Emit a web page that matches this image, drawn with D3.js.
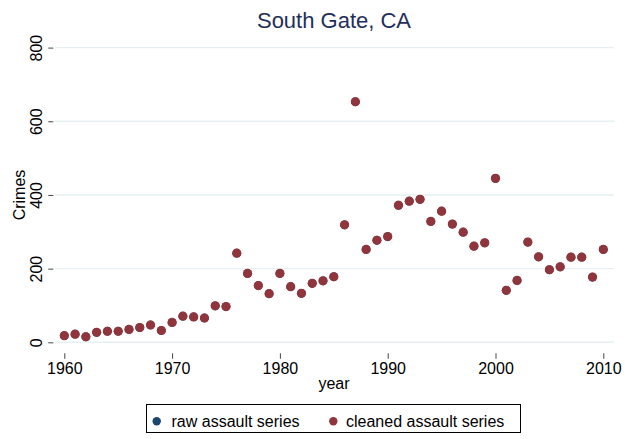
<!DOCTYPE html>
<html><head><meta charset="utf-8">
<script src="https://cdn.jsdelivr.net/npm/d3@7"></script>
<style>body{margin:0;background:#fff}svg{display:block}text{font-family:"Liberation Sans",Arial,Helvetica,sans-serif}</style>
</head><body>
<svg id="c" width="625" height="439"></svg>
<script>
const years = d3.range(1960, 2011);
const cleaned = [18,22,15,27,30,30,35,40,47,32,54,71,69,66,99,97,242,187,154,132,187,151,133,160,167,178,319,653,252,277,287,372,383,388,328,356,321,299,261,270,445,141,168,272,232,197,205,231,231,177,252];
const raw = cleaned.slice();
const xTicks = [1960,1970,1980,1990,2000,2010];
const yTicks = [0,200,400,600,800];
const legendLabels = ["raw assault series","cleaned assault series"];
const colors = {raw:"#1a476f", cleaned:"#90353b"};

const svg = d3.select("#c");
const x = d3.scaleLinear().domain([1960,2010]).range([64.3,603.3]);
const y = d3.scaleLinear().domain([0,800]).range([342.3,47.6]);
const plotL = 55, plotR = 614;

// gridlines
svg.append("g").selectAll("line").data(yTicks).join("line")
  .attr("x1",plotL).attr("x2",plotR)
  .attr("y1",d=>y(d)).attr("y2",d=>y(d))
  .attr("stroke","#e6eff1").attr("stroke-width",1.4);

// y axis
const yAxis = svg.append("g").attr("transform","translate(53.3,0)")
  .call(d3.axisLeft(y).tickValues(yTicks).tickSize(5).tickPadding(0).tickFormat(d3.format("d")));
yAxis.select(".domain").remove();
yAxis.selectAll(".tick line").attr("stroke","#444").attr("stroke-width",1);
yAxis.selectAll(".tick text").attr("font-size",16).attr("fill","#000")
  .attr("transform","translate(-11.6,0) rotate(-90)").attr("text-anchor","middle").attr("dy",0).attr("x",0).attr("y",0);

// x axis
const xAxis = svg.append("g").attr("transform","translate(0,353.3)")
  .call(d3.axisBottom(x).tickValues(xTicks).tickSize(5.5).tickPadding(0).tickFormat(d3.format("d")));
xAxis.select(".domain").remove();
xAxis.selectAll(".tick line").attr("stroke","#444").attr("stroke-width",1);
xAxis.selectAll(".tick text").attr("font-size",16).attr("fill","#000").attr("y",21).attr("dy",0);

// points
svg.append("g").selectAll("circle").data(years.map((yr,i)=>({yr,v:raw[i]}))).join("circle")
  .attr("cx",d=>x(d.yr)).attr("cy",d=>y(d.v)).attr("r",4.4).attr("fill",colors.raw);
svg.append("g").selectAll("circle").data(years.map((yr,i)=>({yr,v:cleaned[i]}))).join("circle")
  .attr("cx",d=>x(d.yr)).attr("cy",d=>y(d.v)).attr("r",4.6).attr("fill",colors.cleaned);

// title and axis titles
svg.append("text").attr("x",334).attr("y",28).attr("text-anchor","middle")
  .attr("font-size",22).attr("fill","#1f2f5c").text("South Gate, CA");
svg.append("text").attr("transform","translate(25,195) rotate(-90)").attr("text-anchor","middle")
  .attr("font-size",16).attr("fill","#000").text("Crimes");
svg.append("text").attr("x",334).attr("y",389).attr("text-anchor","middle")
  .attr("font-size",16).attr("fill","#000").text("year");

// legend
const lg = svg.append("g");
lg.append("rect").attr("x",146.5).attr("y",404.5).attr("width",374).attr("height",28)
  .attr("fill","#fff").attr("stroke","#000").attr("stroke-width",1);
const items = [{lab:legendLabels[0],c:colors.raw,mx:156.7,tx:171.5},{lab:legendLabels[1],c:colors.cleaned,mx:333.3,tx:346}];
items.forEach(it=>{
  lg.append("circle").attr("cx",it.mx).attr("cy",421.3).attr("r",4.2).attr("fill",it.c);
  lg.append("text").attr("x",it.tx).attr("y",427).attr("font-size",16).attr("fill","#000").text(it.lab);
});
</script>
</body></html>
